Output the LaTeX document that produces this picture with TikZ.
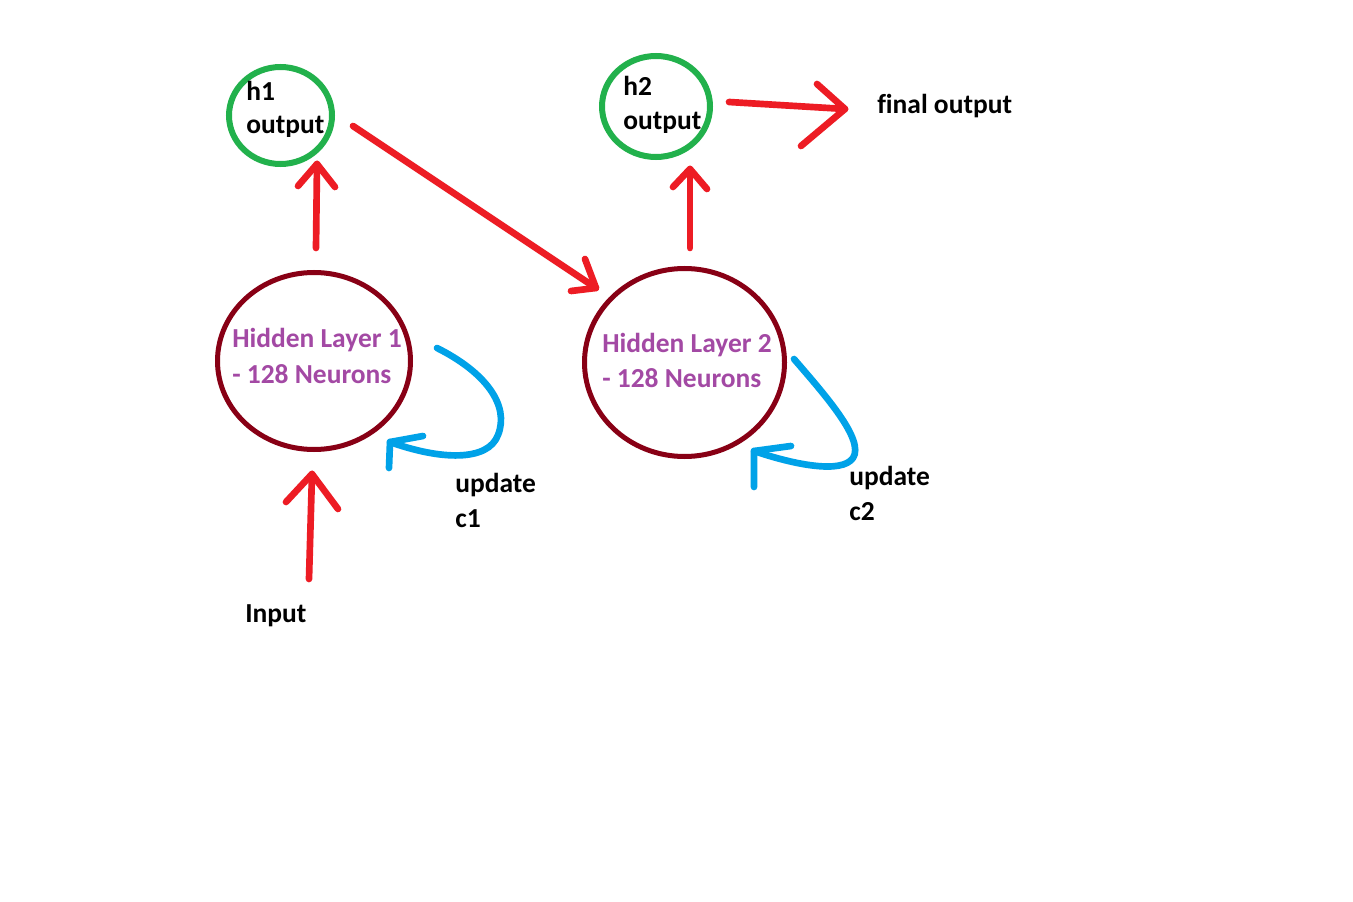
\documentclass[tikz,border=0pt]{standalone}
\usepackage{fontspec}
\setmainfont{Carlito}[Ligatures=NoCommon]
\usetikzlibrary{shapes.geometric}
\definecolor{pred}{HTML}{ED1C24}
\definecolor{pgreen}{HTML}{22B14C}
\definecolor{pdark}{HTML}{880015}
\definecolor{ppurple}{HTML}{A349A4}
\definecolor{pblue}{HTML}{00A2E8}
\tikzset{
  outcirc/.style={ellipse, draw=pgreen, line width=4.5pt, inner sep=0pt},
  layercirc/.style={ellipse, draw=pdark, line width=3.75pt, inner sep=0pt},
  redline/.style={draw=pred, line width=5pt, line cap=round, line join=round},
  blueline/.style={draw=pblue, line width=5pt, line cap=round, line join=round},
  lbl/.style={anchor=base west, inner sep=0pt, font=\fontsize{20.6}{26}\selectfont\bfseries, text=black},
  plbl/.style={lbl, text=ppurple},
}
\begin{document}
\begin{tikzpicture}[x=0.75pt, y=-0.75pt]
\useasboundingbox (0,0) rectangle (1353,902);
\fill[white] (0,0) rectangle (1353,902);

% circles
\node[outcirc, minimum width=77.25pt, minimum height=72.75pt] (h1) at (280.5,115.5) {};
\node[outcirc, minimum width=81pt, minimum height=75.75pt] (h2) at (656,106.5) {};
\node[layercirc, minimum width=144.75pt, minimum height=132.75pt] (hl1) at (314,361) {};
\node[layercirc, minimum width=150pt, minimum height=141pt] (hl2) at (684.5,362.5) {};

% texts in output circles (clipped at bottom like the original text boxes)
\begin{scope}
\clip (240,70) rectangle (345,137);
\node[lbl] (h1a) at (246,101) {h1};
\node[lbl] (h1b) at (246,134) {output};
\end{scope}
\begin{scope}
\clip (615,60) rectangle (720,133);
\node[lbl] (h2a) at (623,96) {h2};
\node[lbl] (h2b) at (623,130) {output};
\end{scope}

% layer texts
\node[plbl] (t1a) at (232,348) {Hidden Layer 1};
\node[plbl] (t1b) at (232,383) {- 128 Neurons};
\node[plbl] (t2a) at (602,352) {Hidden Layer 2};
\node[plbl] (t2b) at (602,387) {- 128 Neurons};

% other labels
\node[lbl] (fo) at (877,114) {final output};
\node[lbl] (u1) at (455,492) {update};
\node[lbl] (c1) at (455,527) {c1};
\node[lbl] (u2) at (849,485) {update};
\node[lbl] (c2) at (849,520) {c2};
\node[lbl] (inp) at (245,622) {Input};

% coordinates for connectors
\coordinate (inS) at (309,579);
\coordinate (inT) at (312,474);
\coordinate (inW1) at (286,502);
\coordinate (inW2) at (338,509);

\coordinate (u1S) at (316,248);
\coordinate (u1T) at (317,164);
\coordinate (u1W1) at (298,186);
\coordinate (u1W2) at (335,187);

\coordinate (dS) at (353,126);
\coordinate (dT) at (596,288);
\coordinate (dW1) at (571,291);
\coordinate (dW2) at (585,259);

\coordinate (u2S) at (690,248);
\coordinate (u2T) at (690,169);
\coordinate (u2W1) at (673,187);
\coordinate (u2W2) at (707,189);

\coordinate (fS) at (729,102);
\coordinate (fT) at (845,109);
\coordinate (fW1) at (817,84);
\coordinate (fW2) at (801,146);

\coordinate (b1S) at (437,348);
\coordinate (b1T) at (390,442);
\coordinate (b1W1) at (423,436);
\coordinate (b1W2) at (389,468);

\coordinate (b2S) at (794,359);
\coordinate (b2T) at (754,451);
\coordinate (b2W1) at (791,446);
\coordinate (b2W2) at (754,487);

% red arrows
\draw[redline] (inS) -- (inT);
\draw[redline] (inW1) -- (inT) -- (inW2);
\draw[redline] (u1S) -- (u1T);
\draw[redline] (u1W1) -- (u1T) -- (u1W2);
\draw[redline] (dS) -- (dT);
\draw[redline] (dW1) -- (dT) -- (dW2);
\draw[redline] (u2S) -- (u2T);
\draw[redline] (u2W1) -- (u2T) -- (u2W2);
\draw[redline] (fS) -- (fT);
\draw[redline] (fW1) -- (fT) -- (fW2);

% blue loops
\draw[blueline] (b1S) .. controls (485,372) and (510,405) .. (498,435)
  .. controls (488,462) and (440,460) .. (b1T);
\draw[blueline] (b1W1) -- (b1T) -- (b1W2);
\draw[blueline] (b2S) .. controls (825,395) and (865,440) .. (853,458)
  .. controls (842,474) and (795,465) .. (b2T);
\draw[blueline] (b2W1) -- (b2T) -- (b2W2);
\end{tikzpicture}
\end{document}
